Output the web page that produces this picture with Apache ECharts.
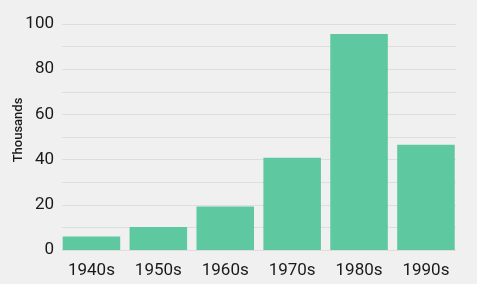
<!DOCTYPE html>
<html><head><meta charset="utf-8">
<script src="https://cdn.jsdelivr.net/npm/echarts@6/dist/echarts.min.js"></script>
<style>html,body{margin:0;padding:0;background:#f0f0f0;}#c{width:477px;height:284px;}</style>
</head><body><div id="c"></div>
<script>
const categories = ['1940s','1950s','1960s','1970s','1980s','1990s'];
const values = [6, 10.2, 19.2, 40.8, 95.6, 46.6];
const yTicks = [0, 20, 40, 60, 80, 100];
const yTitle = 'Thousands';

const chart = echarts.init(document.getElementById('c'));
chart.setOption({
  backgroundColor: '#f0f0f0',
  animation: false,
  grid: [
    {left: 62, right: 21, top: 24, bottom: 34},
    {left: 58, right: 17.6, top: 24, bottom: 34}
  ],
  graphic: [{
    type: 'text', x: 18.5, y: 130, rotation: Math.PI / 2,
    style: {text: yTitle, fill: '#1a1a1a', font: '500 13px Roboto', align: 'center', verticalAlign: 'middle'}
  }],
  xAxis: [
    {type: 'category', gridIndex: 0, data: categories, show: false},
    {
      type: 'category', gridIndex: 1, data: categories,
      axisLine: {show: false}, axisTick: {show: false},
      axisLabel: {color: '#1a1a1a', fontSize: 17, fontFamily: 'Roboto', margin: 12}
    }
  ],
  yAxis: [
    {
      type: 'value', gridIndex: 0, min: 0, max: 100, interval: 10,
      axisLine: {show: false}, axisTick: {show: false},
      axisLabel: {color: '#1a1a1a', fontSize: 17, fontFamily: 'Roboto', margin: 8,
        formatter: v => yTicks.includes(v) ? String(v) : ''},
      splitLine: {lineStyle: {color: '#dedede', width: 1}}
    },
    {type: 'value', gridIndex: 1, min: 0, max: 100, show: false, splitLine: {show: false}}
  ],
  series: [{
    type: 'bar', xAxisIndex: 1, yAxisIndex: 1, data: values, barCategoryGap: '14%',
    itemStyle: {color: '#5ec8a0'}
  }]
});
</script></body></html>
